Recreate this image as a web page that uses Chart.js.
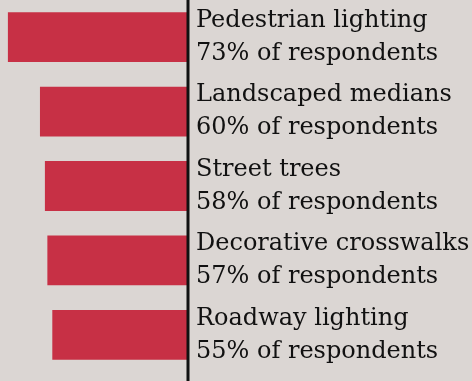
<!DOCTYPE html>
<html>
<head>
<meta charset="utf-8">
<script src="https://cdn.jsdelivr.net/npm/chart.js@4"></script>
<style>
  html, body { margin: 0; padding: 0; background: #dbd6d3; }
  #wrap { width: 472px; height: 381px; }
</style>
</head>
<body>
<div id="wrap"><canvas id="myChart" width="472" height="381"></canvas></div>
<script>
const features = [
   'Pedestrian lighting',
   'Landscaped medians',
   'Street trees',
   'Decorative crosswalks',
   'Roadway lighting',
];
const shares = [73, 60, 58, 57, 55];

const labels = features.map((name, i) => [name, shares[i] + '% of respondents']);

// vertical rule along the zero line, running the full canvas height
const zeroLine = {
   id: 'zeroLine',
   afterDatasetsDraw(chart) {
      const x = chart.scales.x.getPixelForValue(0);
      const ctx = chart.ctx;
      ctx.save();
      ctx.strokeStyle = '#111';
      ctx.lineWidth = 3;
      ctx.beginPath();
      ctx.moveTo(x, 0);
      ctx.lineTo(x, chart.height);
      ctx.stroke();
      ctx.restore();
   },
};

const data = {
   labels: labels,
   datasets: [
      {
         label: 'Respondents',
         backgroundColor: '#c73045',
         data: shares,
         barPercentage: 0.67,
         categoryPercentage: 1,
      },
   ],
};

const config = {
   type: 'bar',
   data: data,
   options: {
      indexAxis: 'y',
      responsive: false,
      animation: false,
      layout: { padding: { top: 0, bottom: 9, left: 0, right: 0 } },
      plugins: {
         legend: { display: false },
         tooltip: { enabled: false },
      },
      scales: {
         x: {
            display: false,
            reverse: true,
            min: 0,
            max: 76.2,
         },
         y: {
            position: 'right',
            grid: { display: false, drawTicks: false, tickLength: 0 },
            border: { display: false },
            afterFit(scale) {
               scale.width = 284;
               scale.paddingTop = 0;
               scale.paddingBottom = 0;
            },
            ticks: {
               color: '#111',
               padding: 8,
               autoSkip: false,
               font: { family: 'DejaVu Serif, serif', size: 24, lineHeight: 1.375 },
            },
         },
      },
   },
   plugins: [zeroLine],
};
const myChart = new Chart(document.getElementById('myChart'), config);
</script>
</body>
</html>
